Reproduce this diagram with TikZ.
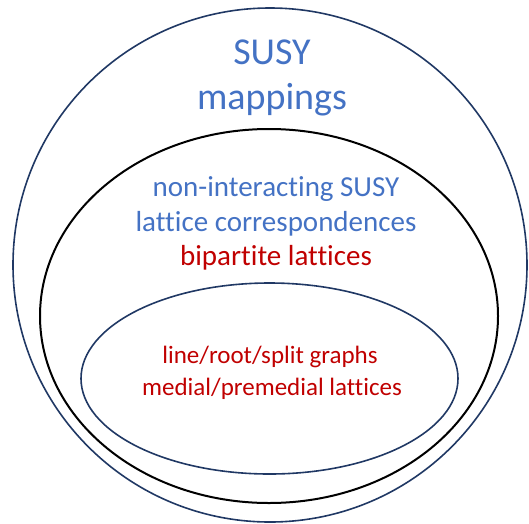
\documentclass[tikz,border=0pt]{standalone}
\usepackage{fontspec}
\setmainfont{Carlito}[Ligatures={NoCommon}]
\usetikzlibrary{positioning, shapes.geometric}
\definecolor{susyblue}{HTML}{4472C4}
\definecolor{latred}{HTML}{C00000}
\definecolor{rim}{HTML}{203864}

\begin{document}
\begin{tikzpicture}[x=1pt,y=-1pt]
	% Define styles
	\tikzset{
		region/.style={ellipse, draw, inner sep=0pt, line width=1.6pt},
		title/.style={text=susyblue, anchor=base, inner sep=0pt, font=\fontsize{38}{44}\selectfont},
		sub/.style={text=susyblue, anchor=base, inner sep=0pt, font=\fontsize{29}{34}\selectfont},
		redsub/.style={sub, text=latred},
		small/.style={text=latred, anchor=base, inner sep=0pt, font=\fontsize{25}{30}\selectfont}
	}
	\useasboundingbox (0,0) rectangle (529,523);
	
	% Regions
	\node[region, draw=rim, minimum width=514pt, minimum height=514pt] (susy) at (270,265) {};
	\node[region, draw=black, line width=2pt, minimum width=458pt, minimum height=374pt] (nonint) at (269,316) {};
	\node[region, draw=rim, minimum width=377pt, minimum height=191pt] (graphs) at (269.5,378.5) {};
	
	% Labels
	\node[title] (susy1) at (272,64) {SUSY};
	\node[title] (susy2) at (272,109) {mappings};
	\node[sub] (corr1) at (276,196) {non-interacting SUSY};
	\node[sub] (corr2) at (276,231) {lattice correspondences};
	\node[redsub] (bip) at (276,265) {bipartite lattices};
	\node[small] (graph1) at (270,363) {line/root/split graphs};
	\node[small] (graph2) at (272,395) {medial/premedial lattices};
	
\end{tikzpicture}
\end{document}
